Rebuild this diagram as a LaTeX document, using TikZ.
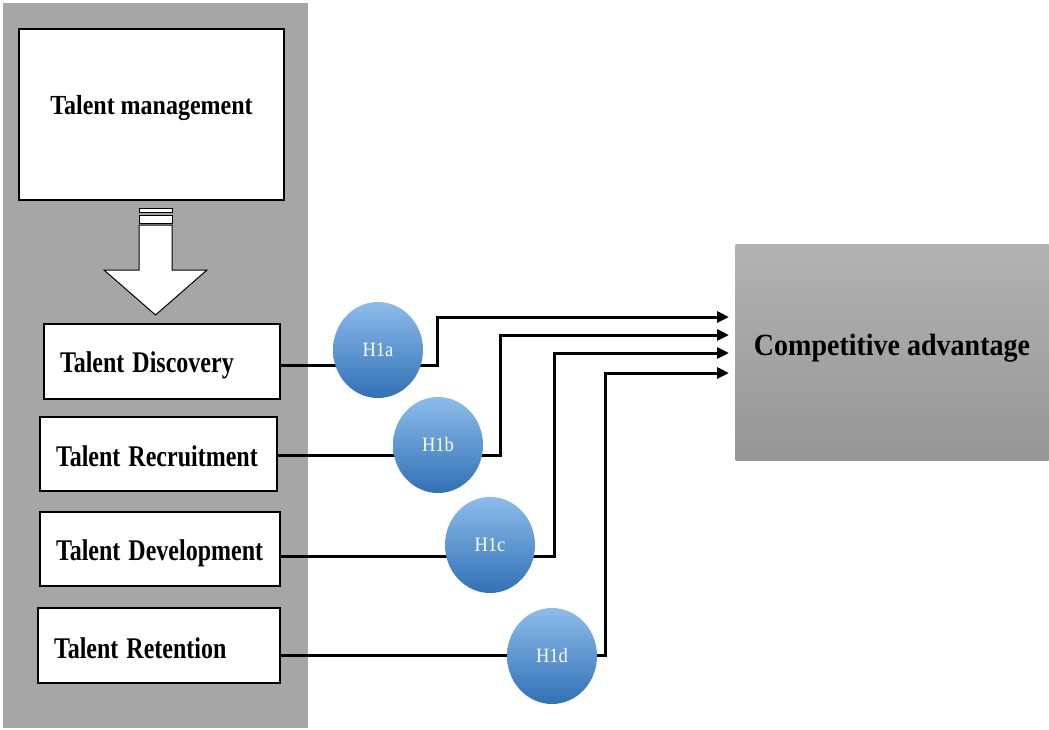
\documentclass[tikz,border=0pt]{standalone}
\usepackage{fontspec}
\usepackage{graphicx}
\setmainfont{Liberation Serif}
\usetikzlibrary{arrows.meta,shapes.geometric}
\pgfdeclarelayer{bg}
\pgfdeclarelayer{lines}
\pgfsetlayers{bg,lines,main}
\definecolor{panelgray}{HTML}{A6A6A6}
\definecolor{catop}{HTML}{B2B2B2}
\definecolor{cabot}{HTML}{969696}
\definecolor{bltop}{HTML}{8DBCEB}
\definecolor{blbot}{HTML}{3171B5}
\newcommand{\lbl}[3]{\raisebox{#1}[\height][\depth]{\scalebox{1}[#2]{#3}}}
\tikzset{
  x=1pt,y=-1pt,
  tbox/.style={draw=black,line width=1.3pt,fill=white,minimum height=75pt,
    text width=205pt,align=left,inner xsep=16pt,inner ysep=0pt,
    font=\fontsize{24}{24}\selectfont\bfseries},
  hyp/.style={ellipse,minimum width=90pt,minimum height=96pt,inner sep=0pt,
    top color=bltop,bottom color=blbot,draw=none,text=white,
    font=\fontsize{18.5}{18.5}\selectfont},
  conn/.style={line width=3pt,draw=black},
  arr/.style={conn,-{Triangle[length=12pt,width=11pt]}},
}
\begin{document}
\begin{tikzpicture}
\useasboundingbox (0,0) rectangle (1049,729);
\begin{pgfonlayer}{bg}
\fill[white] (0,0) rectangle (1049,729);
\fill[panelgray] (3,3) rectangle (308,728);
\end{pgfonlayer}
% talent management box
\node[draw=black,line width=1.3pt,fill=white,minimum width=265pt,minimum height=171pt,
  inner sep=0pt,font=\fontsize{24}{24}\selectfont\bfseries] (TM) at (151.5,114.5)
  {\lbl{7pt}{1.15}{Talent management}};
% block arrow
\draw[line width=1pt,fill=white] (139,208) rectangle (172,212.5);
\draw[line width=1pt,fill=white] (139,215.5) rectangle (172,223);
\draw[line width=1pt,fill=white] (139,225) -- (172,225) -- (172,270) -- (207,270)
  -- (155.5,315) -- (104,270) -- (139,270) -- cycle;
% sub boxes
\node[tbox,minimum width=236pt,text width=204pt] (D) at (162,361.5) {\lbl{-4pt}{1.25}{Talent Discovery}};
\node[tbox,minimum width=237pt,text width=205pt,minimum height=74pt] (R) at (158.5,454) {\lbl{-2pt}{1.25}{Talent Recruitment}};
\node[tbox,minimum width=240pt,text width=208pt,minimum height=74pt] (V) at (160,549) {\lbl{-4pt}{1.25}{Talent Development}};
\node[tbox,minimum width=242pt,text width=210pt] (N) at (159,645.5) {\lbl{-3pt}{1.25}{Talent Retention}};
% competitive advantage
\node[minimum width=313pt,minimum height=216pt,inner sep=0pt,top color=catop,bottom color=cabot,
  font=\fontsize{28}{28}\selectfont\bfseries] (CA) at (892,352) {\lbl{4pt}{1.1}{Competitive advantage}};
% arrow end points
\coordinate (e1) at (729,317);
\coordinate (e2) at (729,335);
\coordinate (e3) at (729,353);
\coordinate (e4) at (729,373);
% hypothesis circles
\node[hyp] (Ha) at (378,350) {\lbl{0pt}{1.1}{H1a}};
\node[hyp] (Hb) at (438,445) {\lbl{0pt}{1.1}{H1b}};
\node[hyp] (Hc) at (490,545) {\lbl{0pt}{1.1}{H1c}};
\node[hyp] (Hd) at (552,656) {\lbl{0pt}{1.1}{H1d}};
\begin{pgfonlayer}{lines}
% box to circle
\draw[conn] ([yshift=-3.5pt]D.east) -- ([yshift=-3.5pt]D.east -| Ha.center);
\draw[conn] ([yshift=-1pt]R.east) -- ([yshift=-1pt]R.east -| Hb.center);
\draw[conn] ([yshift=-7pt]V.east) -- ([yshift=-7pt]V.east -| Hc.center);
\draw[conn] ([yshift=-9.5pt]N.east) -- ([yshift=-9.5pt]N.east -| Hd.center);
% circle to competitive advantage
\draw[arr] ([yshift=-3.5pt]D.east -| Ha.center) -| (437,317) -- (e1);
\draw[arr] ([yshift=-1pt]R.east -| Hb.center) -| (500,335) -- (e2);
\draw[arr] ([yshift=-7pt]V.east -| Hc.center) -| (554,353) -- (e3);
\draw[arr] ([yshift=-9.5pt]N.east -| Hd.center) -| (605,373) -- (e4);
\end{pgfonlayer}
\end{tikzpicture}
\end{document}
